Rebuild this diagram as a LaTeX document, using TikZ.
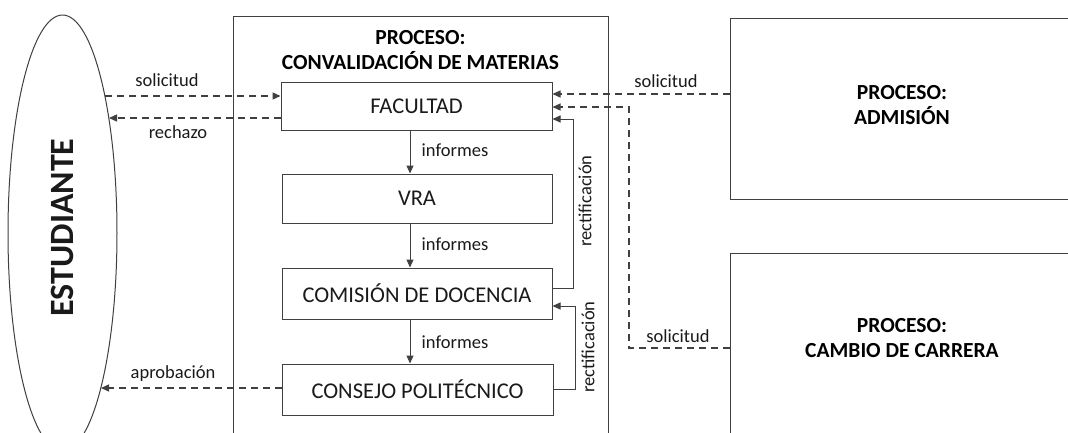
\documentclass[tikz,border=0pt]{standalone}
\usepackage{fontspec}
\setmainfont{Carlito}
\usetikzlibrary{arrows.meta,shapes.geometric}
\definecolor{ln}{HTML}{404040}
\definecolor{tx}{HTML}{1A1A1A}
\begin{document}
\begin{tikzpicture}[x=1pt,y=-1pt,
  box/.style={draw=ln, line width=1pt, rectangle, inner sep=0pt, font=\fontsize{22.5}{26}\selectfont, text=tx},
  frame/.style={draw=ln, line width=1pt, rectangle, inner sep=0pt},
  lbl/.style={font=\fontsize{18.5}{20}\selectfont, text=tx, inner sep=0pt},
  ttl/.style={font=\bfseries\fontsize{21.5}{25}\selectfont, align=center, inner sep=0pt, text=black},
  flow/.style={draw=ln, line width=1pt, -{Triangle[length=8pt,width=7pt]}},
  dflow/.style={flow, line width=1.3pt, dash pattern=on 7pt off 5pt}]
\useasboundingbox (0,0) rectangle (1068,432);
\fill[white] (0,0) rectangle (1068,432);
\clip (0,0) rectangle (1068,432);
% student
\node[draw=ln, line width=1pt, ellipse, minimum width=109pt, minimum height=436pt, inner sep=0pt] (est) at (62.5,233) {};
\node[rotate=90, font=\bfseries\fontsize{34}{34}\selectfont, text=tx, inner sep=0pt] (esttxt) at (62,227.5) {ESTUDIANTE};
% main process
\node[frame, minimum width=375pt, minimum height=444pt] (conv) at (420.5,238) {};
\node[ttl] (convt) at (420.5,50.5) {PROCESO:\\CONVALIDACIÓN DE MATERIAS};
\node[box, minimum width=271pt, minimum height=48pt] (fac) at (416.5,106) {FACULTAD};
\node[box, minimum width=270pt, minimum height=49pt] (vra) at (417,198.5) {VRA};
\node[box, minimum width=270pt, minimum height=51pt] (com) at (417,293.5) {COMISIÓN DE DOCENCIA};
\node[box, minimum width=271pt, minimum height=51pt] (con) at (417.5,389.5) {CONSEJO POLITÉCNICO};
% other processes
\node[frame, minimum width=344pt, minimum height=181pt] (adm) at (902,108.5) {};
\node[ttl] (admt) at (902,105) {PROCESO:\\ADMISIÓN};
\node[frame, minimum width=344pt, minimum height=217pt] (cam) at (902,361.5) {};
\node[ttl] (camt) at (902,338) {PROCESO:\\CAMBIO DE CARRERA};
% coordinates on the ellipse and bends
\coordinate (e1) at (105,96);
\coordinate (e2) at (109,118);
\coordinate (e3) at (101,388);
\coordinate (f1) at ([yshift=-12pt]fac.west);
\coordinate (c3) at ([yshift=1.5pt]con.west);
\coordinate (a1) at ([yshift=14.5pt]adm.west);
\coordinate (m1) at ([yshift=13.5pt]cam.west);
\coordinate (m2) at (629,107);
\coordinate (r1) at ([yshift=5.5pt]com.east);
\coordinate (k1) at (573,119);
\coordinate (k2) at (575,306);
% student connectors
\draw[dflow] (e1) -- (e1 -| fac.west);
\draw[dflow] (f1) -- (e2);
\draw[dflow] (c3) -- (e3);
\node[lbl] (l1) at (167,80) {solicitud};
\node[lbl] (l2) at (178,132) {rechazo};
\node[lbl] (l3) at (173,374) {aprobación};
% informes
\draw[flow] ([xshift=-6.5pt]fac.south) -- ([xshift=-7pt]vra.north);
\draw[flow] ([xshift=-7pt]vra.south) -- ([xshift=-7pt]com.north);
\draw[flow] ([xshift=-7pt]com.south) -- ([xshift=-7.5pt]con.north);
\node[lbl] (i1) at (455,150) {informes};
\node[lbl] (i2) at (455,244) {informes};
\node[lbl] (i3) at (455,342) {informes};
% rectificacion
\draw[flow] (r1) -- (r1 -| k1) -- (k1) -- (k1 -| fac.east);
\draw[flow] (con.east) -- (con.east -| k2) -- (k2) -- (k2 -| com.east);
\node[lbl, rotate=90] (q1) at (585,201) {rectificación};
\node[lbl, rotate=90] (q2) at (588,347) {rectificación};
% solicitudes from other processes
\draw[dflow] (a1) -- (a1 -| fac.east);
\draw[dflow] (m1) -- (m1 -| m2) -- (m2) -- (m2 -| fac.east);
\node[lbl] (s1) at (666,81) {solicitud};
\node[lbl] (s2) at (678,336) {solicitud};
\end{tikzpicture}
\end{document}
